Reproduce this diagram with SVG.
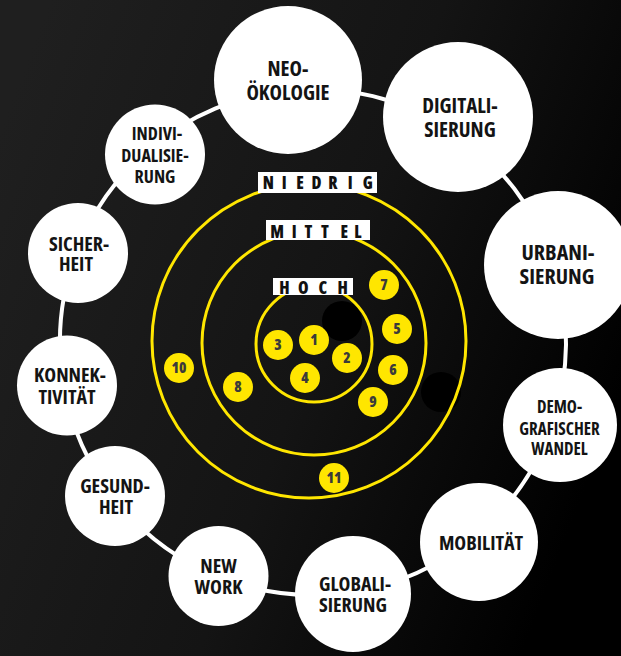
<svg xmlns="http://www.w3.org/2000/svg" width="621" height="656" viewBox="0 0 621 656">
<defs>
<linearGradient id="bg" x1="0" y1="0.2" x2="1" y2="0.6">
<stop offset="0" stop-color="#1f1f1f"/>
<stop offset="0.55" stop-color="#141414"/>
<stop offset="1" stop-color="#000"/>
</linearGradient>
</defs>
<style>
.node{fill:#fff}
.lbl{font-family:"Open Sans","DejaVu Sans",sans-serif;font-weight:700;font-stretch:75%;fill:#141414;text-anchor:middle}
.ring{fill:none;stroke:#ffe600;stroke-width:3}
.lvl{fill:#fff}
.lvt{font-family:"Open Sans","DejaVu Sans",sans-serif;font-weight:800;font-stretch:75%;font-size:17px;fill:#111;text-anchor:middle}
.dot{fill:#ffe600}
.num{font-family:"Open Sans","DejaVu Sans",sans-serif;font-weight:800;font-stretch:75%;font-size:15px;fill:#3a3a3a;text-anchor:middle}
.conn{fill:none;stroke:#fff;stroke-width:4}
</style>
<rect width="621" height="656" fill="url(#bg)"/>

<g id="shadows">
<circle cx="342" cy="321" r="20" fill="#000"/>
<circle cx="441" cy="392" r="20" fill="#000"/>
</g>

<g id="levels">
<circle class="ring" cx="309" cy="341" r="157"/>
<circle class="ring" cx="314" cy="343" r="112"/>
<circle class="ring" cx="314" cy="344" r="58"/>
<rect class="lvl" x="258" y="172" width="119" height="21"/>
<text class="lvt" x="268.3 284.3 300 316.5 333 350.3 367.8" y="189">NIEDRIG</text>
<rect class="lvl" x="266" y="220" width="104" height="20"/>
<text class="lvt" x="277.2 294.3 308.3 325 344.2 358" y="238">MITTEL</text>
<rect class="lvl" x="273" y="278" width="80" height="17"/>
<text class="lvt" x="284.5 303.3 322.8 342.8" y="294">HOCH</text>
</g>

<g id="markers">
<g id="m1"><circle class="dot" cx="314" cy="340" r="15"/><text class="num" x="314" y="345">1</text></g>
<g id="m2"><circle class="dot" cx="347" cy="358" r="15"/><text class="num" x="347" y="363">2</text></g>
<g id="m3"><circle class="dot" cx="278" cy="345" r="15"/><text class="num" x="278" y="350">3</text></g>
<g id="m4"><circle class="dot" cx="305" cy="378" r="15"/><text class="num" x="305" y="383">4</text></g>
<g id="m5"><circle class="dot" cx="397" cy="329" r="15"/><text class="num" x="397" y="334">5</text></g>
<g id="m6"><circle class="dot" cx="393" cy="370" r="15"/><text class="num" x="393" y="375">6</text></g>
<g id="m7"><circle class="dot" cx="384" cy="285" r="15"/><text class="num" x="384" y="290">7</text></g>
<g id="m8"><circle class="dot" cx="238" cy="387" r="15"/><text class="num" x="238" y="392">8</text></g>
<g id="m9"><circle class="dot" cx="373" cy="402" r="15"/><text class="num" x="373" y="407">9</text></g>
<g id="m10"><circle class="dot" cx="179" cy="368" r="15"/><text class="num" x="179" y="373">10</text></g>
<g id="m11"><circle class="dot" cx="334" cy="478" r="15"/><text class="num" x="334" y="483">11</text></g>
</g>

<g id="connectors">
<path class="conn" d="M289 90.1 A253 253 0 0 1 450 129.3"/>
<path class="conn" d="M450 129.3 A253 253 0 0 1 554.4 266.1"/>
<path class="conn" d="M554.4 266.1 A253 253 0 0 1 552.8 422.7"/>
<path class="conn" d="M552.8 422.7 A253 253 0 0 1 474.6 536.7"/>
<path class="conn" d="M474.6 536.7 A253 253 0 0 1 352.6 591.9"/>
<path class="conn" d="M352.6 591.9 A253 253 0 0 1 218.2 576.6"/>
<path class="conn" d="M218.2 576.6 A253 253 0 0 1 113.4 497.4"/>
<path class="conn" d="M113.4 497.4 A253 253 0 0 1 63.9 385.9"/>
<path class="conn" d="M63.9 385.9 A253 253 0 0 1 76.3 252.6"/>
<path class="conn" d="M76.3 252.6 A253 253 0 0 1 150 148.5"/>
<path class="conn" d="M150 148.5 A253 253 0 0 1 289 90.1"/>
</g>

<g id="neooekologie"><circle class="node" cx="288" cy="80" r="74"/>
<text class="lbl" font-size="21" x="288" y="76">NEO-</text><text class="lbl" font-size="21" x="288" y="100">ÖKOLOGIE</text></g>
<g id="digitalisierung"><circle class="node" cx="458" cy="117" r="75"/>
<text class="lbl" font-size="21" x="460" y="113">DIGITALI-</text><text class="lbl" font-size="21" x="460" y="137">SIERUNG</text></g>
<g id="urbanisierung"><circle class="node" cx="558" cy="265" r="74"/>
<text class="lbl" font-size="22" x="558" y="260">URBANI-</text><text class="lbl" font-size="22" x="557" y="284">SIERUNG</text></g>
<g id="demografischer-wandel"><circle class="node" cx="560" cy="425" r="57"/>
<text class="lbl" font-size="17" x="559.5" y="413">DEMO-</text><text class="lbl" font-size="17" x="559.5" y="435">GRAFISCHER</text><text class="lbl" font-size="17" x="559.5" y="455">WANDEL</text></g>
<g id="mobilitaet"><circle class="node" cx="479" cy="542" r="59"/>
<text class="lbl" font-size="20" x="481" y="550">MOBILITÄT</text></g>
<g id="globalisierung"><circle class="node" cx="353" cy="594" r="58"/>
<text class="lbl" font-size="20" x="355" y="591">GLOBALI-</text><text class="lbl" font-size="20" x="353" y="612">SIERUNG</text></g>
<g id="new-work"><circle class="node" cx="218.5" cy="576" r="50"/>
<text class="lbl" font-size="20" x="218.5" y="573">NEW</text><text class="lbl" font-size="20" x="218.5" y="594">WORK</text></g>
<g id="gesundheit"><circle class="node" cx="115" cy="496" r="50"/>
<text class="lbl" font-size="20" x="115" y="493">GESUND-</text><text class="lbl" font-size="20" x="116" y="514">HEIT</text></g>
<g id="konnektivitaet"><circle class="node" cx="67" cy="385.5" r="50"/>
<text class="lbl" font-size="20" x="70" y="382">KONNEK-</text><text class="lbl" font-size="20" x="67" y="404">TIVITÄT</text></g>
<g id="sicherheit"><circle class="node" cx="78" cy="253" r="50"/>
<text class="lbl" font-size="20" x="79" y="251">SICHER-</text><text class="lbl" font-size="20" x="76" y="271">HEIT</text></g>
<g id="individualisierung"><circle class="node" cx="155" cy="154.5" r="50"/>
<text class="lbl" font-size="18" x="157" y="140">INDIVI-</text><text class="lbl" font-size="18" x="155" y="162">DUALISIE-</text><text class="lbl" font-size="18" x="155" y="183">RUNG</text></g>
</svg>
